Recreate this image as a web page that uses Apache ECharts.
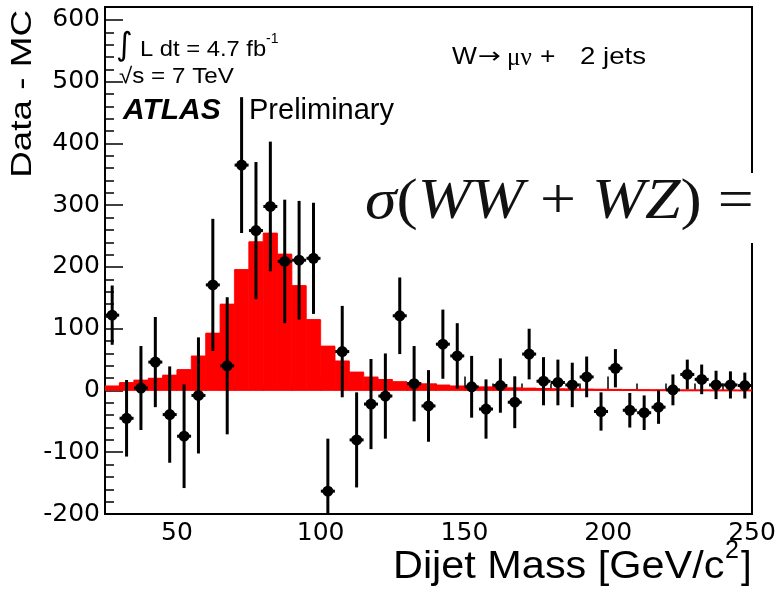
<!DOCTYPE html>
<html>
<head>
<meta charset="utf-8">
<title>Data - MC, W to mu nu + 2 jets</title>
<script src="https://cdn.jsdelivr.net/npm/echarts@6/dist/echarts.min.js"></script>
<style>
    html, body { margin: 0; padding: 0; background: #fff; }
    #canvas { width: 782px; height: 593px; }
</style>
</head>
<body>
<div id="canvas"></div>
<script>
// bin centres of the dijet mass histogram (GeV/c^2), 5 GeV wide bins
var massBins = [27.5, 32.5, 37.5, 42.5, 47.5, 52.5, 57.5, 62.5, 67.5, 72.5,
    77.5, 82.5, 87.5, 92.5, 97.5, 102.5, 107.5, 112.5, 117.5, 122.5,
    127.5, 132.5, 137.5, 142.5, 147.5, 152.5, 157.5, 162.5, 167.5, 172.5,
    177.5, 182.5, 187.5, 192.5, 197.5, 202.5, 207.5, 212.5, 217.5, 222.5,
    227.5, 232.5, 237.5, 242.5, 247.5];
var binHalfWidth = 2.5;

// data minus background MC, with statistical errors
var dataDiff = [122, -45, 4, 46, -39, -74, -8, 171, 40, 365,
    259, 298, 209, 211, 214, -163, 63, -80, -22, -9,
    121, 11, -25, 75, 56, 6, -30, 8, -19, 59,
    15, 13, 9, 22, -34, 36, -32, -36, -27, 1,
    26, 18, 9, 9, 8];
var dataErr = [48, 62, 68, 73, 78, 84, 94, 107, 111, 110,
    111, 105, 100, 96, 90, 85, 74, 77, 73, 69,
    62, 61, 58, 56, 53, 50, 48, 44, 42, 41,
    39, 37, 36, 33, 31, 31, 28, 28, 27, 25,
    24, 24, 23, 22, 21];

// WW + WZ signal MC (red histogram)
var mcSignal = [6.5, 12, 16, 19, 24, 33, 55, 92, 139, 195,
    240, 254, 220, 169, 114, 71, 47, 29, 21, 17,
    13.5, 12, 10, 8, 6.5, 5.5, 5, 4, 3.5, 3,
    2.5, 2, 1.8, 1.5, 1.2, 1, 0.8, 0.6, 0.5, 0.4,
    0.3, 0.3, 0.2, 0.2, 0.1];

// tick labels
var xMajorTicks = [50, 100, 150, 200, 250];
var xMinorTicks = [30, 40, 60, 70, 80, 90, 110, 120, 130, 140, 160, 170, 180, 190, 210, 220, 230, 240];
var yMajorTicks = [-200, -100, 0, 100, 200, 300, 400, 500, 600];
var yMinorTicks = [-180, -160, -140, -120, -80, -60, -40, -20, 20, 40, 60, 80,
    120, 140, 160, 180, 220, 240, 260, 280, 320, 340, 360, 380,
    420, 440, 460, 480, 520, 540, 560, 580];

var xMin = 25, xMax = 250, yMin = -200, yMax = 621;

var myChart = echarts.init(document.getElementById("canvas"));

var histData = massBins.map(function (m, i) {
    return [m - binHalfWidth, m + binHalfWidth, mcSignal[i]];
});
var pointData = massBins.map(function (m, i) {
    return [m, dataDiff[i], dataErr[i]];
});

function axisX(ticks, len, showLabel) {
    return {
        type: "value",
        min: xMin,
        max: xMax,
        position: "bottom",
        axisLine: { show: false },
        splitLine: { show: false },
        axisTick: {
            inside: true,
            length: len,
            customValues: ticks,
            lineStyle: { color: "#000", width: 1.5 }
        },
        axisLabel: {
            show: showLabel,
            customValues: ticks,
            color: "#000",
            fontFamily: "DejaVu Sans",
            fontSize: 25,
            margin: 7
        }
    };
}

function axisY(ticks, len, showLabel) {
    return {
        type: "value",
        min: yMin,
        max: yMax,
        position: "left",
        axisLine: { show: false },
        splitLine: { show: false },
        axisTick: {
            inside: true,
            length: len,
            customValues: ticks,
            lineStyle: { color: "#000", width: 1.5 }
        },
        axisLabel: {
            show: showLabel,
            customValues: ticks,
            color: "#000",
            fontFamily: "DejaVu Sans",
            fontSize: 25,
            margin: 5
        }
    };
}

function label(x, y, text, font, extra, align) {
    var el = { type: "text", x: x, y: y, z: 10, style: { text: text, font: font, fill: "#000", verticalAlign: "middle" } };
    if (align) { el.style.align = align; }
    for (var k in extra) { el[k] = extra[k]; }
    return el;
}

var option = {
    backgroundColor: "#fff",
    animation: false,
    grid: {
        left: 105,
        right: 30,
        top: 7,
        bottom: 79,
        show: true,
        borderColor: "#000",
        borderWidth: 2
    },
    xAxis: [axisX(xMajorTicks, 14, true), axisX(xMinorTicks, 7, false)],
    yAxis: [axisY(yMajorTicks, 18, true), axisY(yMinorTicks, 9, false)],
    series: [{
        // red signal histogram
        type: "custom",
        clip: true,
        z: 2,
        encode: { x: [0, 1], y: 2 },
        data: histData,
        renderItem: function (params, api) {
            var p0 = api.coord([api.value(0), 0]);
            var p1 = api.coord([api.value(1), api.value(2)]);
            return {
                type: "group",
                children: [{
                    type: "rect",
                    shape: { x: p0[0], y: p1[1], width: p1[0] - p0[0], height: p0[1] - p1[1] },
                    style: { fill: "#ff0000", stroke: "#ff0000", lineWidth: 0.8 }
                }, {
                    type: "line",
                    shape: { x1: p0[0], y1: p1[1], x2: p1[0], y2: p1[1] },
                    style: { stroke: "#ff0000", lineWidth: 2 }
                }]
            };
        }
    }, {
        // data points with error bars
        type: "custom",
        clip: true,
        z: 3,
        encode: { x: 0, y: 1 },
        data: pointData,
        renderItem: function (params, api) {
            var x = api.value(0), y = api.value(1), e = api.value(2);
            var c = api.coord([x, y]);
            var top = api.coord([x, y + e]);
            var bot = api.coord([x, y - e]);
            return {
                type: "group",
                children: [{
                    type: "line",
                    shape: { x1: top[0], y1: top[1], x2: bot[0], y2: bot[1] },
                    style: { stroke: "#000", lineWidth: 3 }
                }, {
                    type: "line",
                    shape: { x1: c[0] - 7, y1: c[1], x2: c[0] + 7, y2: c[1] },
                    style: { stroke: "#000", lineWidth: 3 }
                }, {
                    type: "circle",
                    shape: { cx: c[0], cy: c[1], r: 5.5 },
                    style: { fill: "#000" }
                }]
            };
        }
    }],
    graphic: [
        // luminosity / energy labels
        label(116, 47, "∫", "32px 'DejaVu Sans'"),
        label(140, 50, "L dt = 4.7 fb", "22px 'Liberation Sans'", { scaleX: 1.08 }),
        label(266, 39, "-1", "14px 'Liberation Sans'"),
        label(119, 77, "√s = 7 TeV", "22px 'Liberation Sans'", { scaleX: 1.1 }),
        label(123, 111, "ATLAS", "italic bold 30px 'Liberation Sans'"),
        label(249, 111, "Preliminary", "29px 'Liberation Sans'"),
        // channel label
        label(452, 57.5, "W", "24px 'Liberation Sans'", { scaleX: 1.1 }),
        label(478, 57.5, "→", "22px 'DejaVu Sans'", { scaleX: 1.25 }),
        label(507, 58, "μν", "25px 'Liberation Serif'"),
        label(540, 57.5, "+", "24px 'Liberation Sans'", { scaleX: 1.1 }),
        label(580, 57.5, "2 jets", "24px 'Liberation Sans'", { scaleX: 1.15 }),
        // pasted cross-section formula with its white background
        { type: "rect", z: 20, shape: { x: 335, y: 173, width: 447, height: 70 }, style: { fill: "#fff" } },
        {
            type: "text", x: 365, y: 203, z: 21, scaleX: 1.1,
            style: {
                text: "{i|σ}{r|(}{i|WW}{r| + }{i|WZ}{r|) =  7}",
                verticalAlign: "middle",
                rich: {
                    i: { fontFamily: "Liberation Serif", fontStyle: "italic", fontSize: 58, fill: "#111" },
                    r: { fontFamily: "Liberation Serif", fontSize: 58, fill: "#111" }
                }
            }
        },
        // axis titles
        label(23, 10, "Data - MC", "29px 'Liberation Sans'", { rotation: Math.PI / 2, scaleX: 1.27 }, "right"),
        label(393, 568, "Dijet Mass [GeV/c", "38px 'Liberation Sans'", { scaleX: 1.09 }),
        label(725, 551, "2", "25px 'Liberation Sans'"),
        label(741, 568, "]", "38px 'Liberation Sans'")
    ]
};

myChart.setOption(option);
</script>
</body>
</html>
